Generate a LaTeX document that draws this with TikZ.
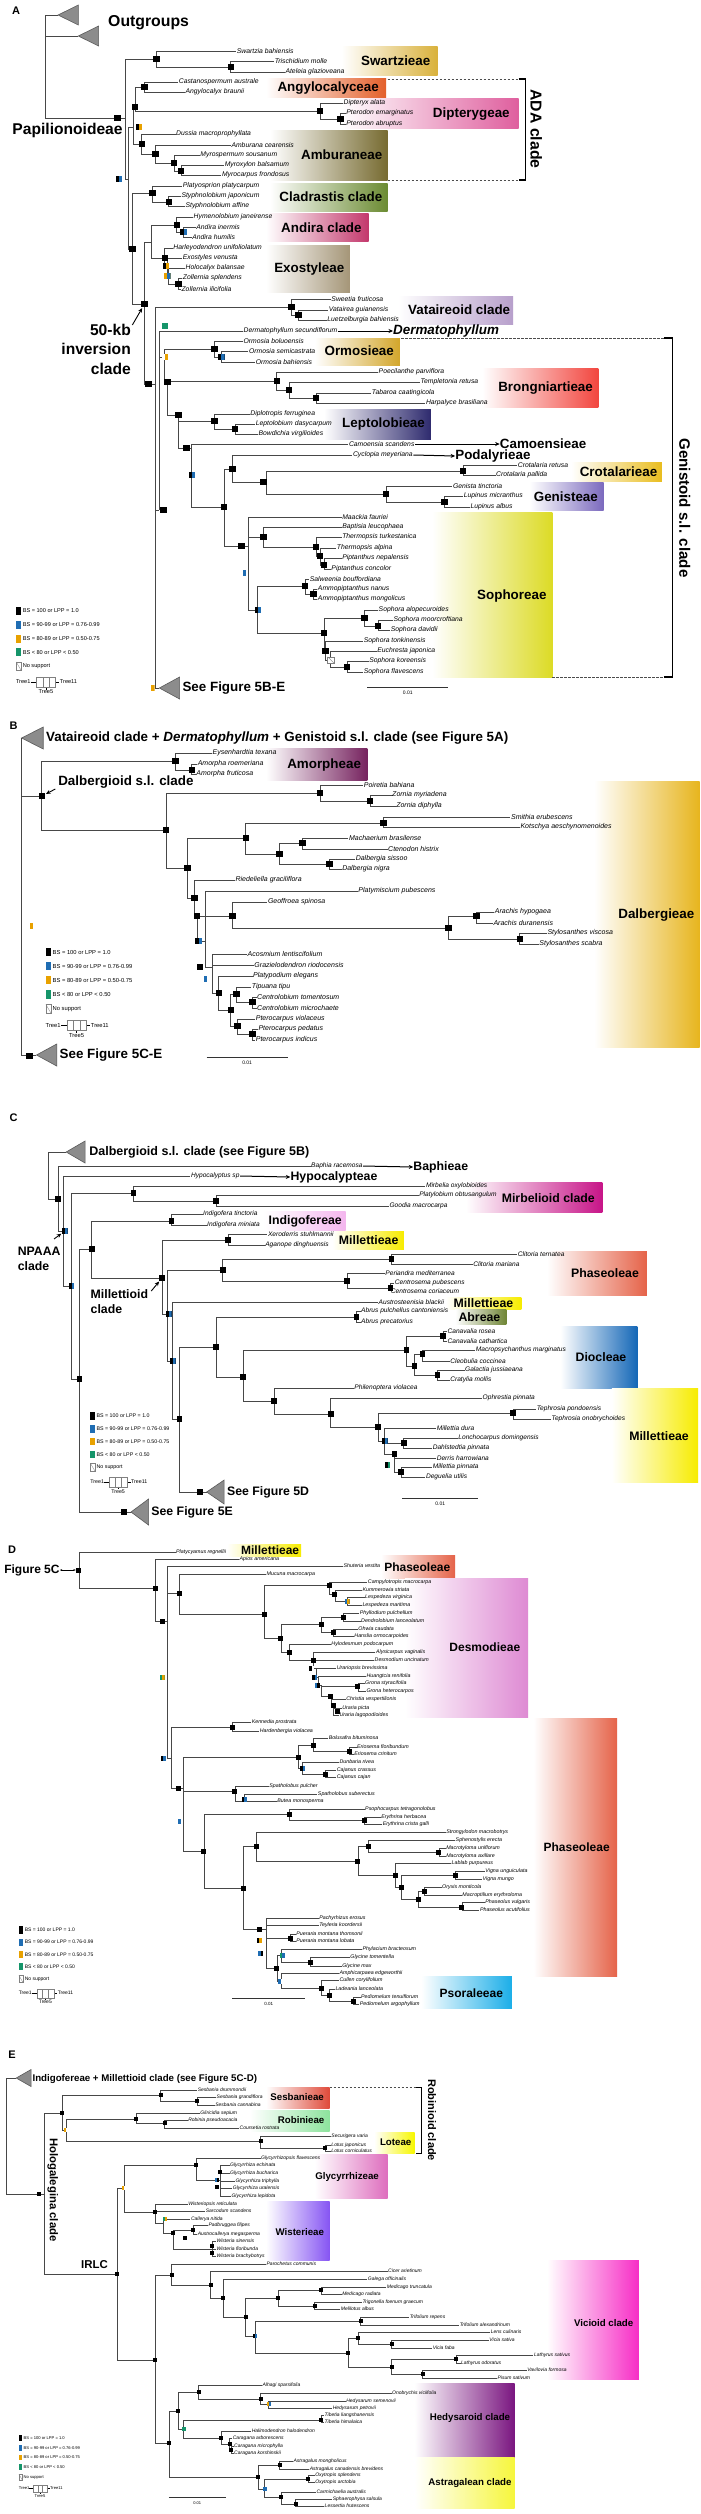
\documentclass[tikz,border=0pt]{standalone}
\usepackage{fontspec}
\setmainfont{Liberation Sans}
\newfontfamily\cf{Liberation Sans}
\newfontfamily\rf{Liberation Sans}
\usetikzlibrary{arrows.meta}
\pgfdeclarelayer{fg}
\pgfsetlayers{main,fg}
\definecolor{cB}{HTML}{1F6DB3}
\definecolor{cO}{HTML}{E8A100}
\definecolor{cG}{HTML}{15956A}
\definecolor{cLn}{HTML}{474747}
\definecolor{cTri}{HTML}{8C8C8C}
\definecolor{cTriD}{HTML}{5A5A5A}
\definecolor{cSw}{HTML}{D9B13B}
\definecolor{cAng}{HTML}{E35F2A}
\definecolor{cDip}{HTML}{DF5F9E}
\definecolor{cAmb}{HTML}{776B31}
\definecolor{cCla}{HTML}{6B8B32}
\definecolor{cAnd}{HTML}{C3386C}
\definecolor{cExo}{HTML}{A59678}
\definecolor{cVat}{HTML}{B79FCB}
\definecolor{cOrm}{HTML}{D3A62B}
\definecolor{cBro}{HTML}{F2463F}
\definecolor{cLep}{HTML}{2E2A6E}
\definecolor{cCro}{HTML}{E9BD1F}
\definecolor{cGen}{HTML}{7B6ABE}
\definecolor{cSop}{HTML}{DCDB26}
\definecolor{cAmo}{HTML}{76235F}
\definecolor{cDal}{HTML}{E7B51E}
\definecolor{cMir}{HTML}{C71588}
\definecolor{cInd}{HTML}{F4B6EE}
\definecolor{cMil}{HTML}{F7EC00}
\definecolor{cPha}{HTML}{E56349}
\definecolor{cAbr}{HTML}{6F8535}
\definecolor{cDio}{HTML}{1467B7}
\definecolor{cDes}{HTML}{DE8AD3}
\definecolor{cPso}{HTML}{1BAEE8}
\definecolor{cSes}{HTML}{DF4A3A}
\definecolor{cRob}{HTML}{8DE39D}
\definecolor{cLot}{HTML}{F7F700}
\definecolor{cGly}{HTML}{DE6EBE}
\definecolor{cWis}{HTML}{8655F3}
\definecolor{cVic}{HTML}{F72EC6}
\definecolor{cHed}{HTML}{7A1680}
\definecolor{cAst}{HTML}{F6F63C}

\newcommand\Nd[3]{\coordinate (#1) at (#2,#3);}
\newcommand\SqC[4]{\begin{pgfonlayer}{fg}\node[sq,fill=#4] (#1) at (#2,#3) {};\end{pgfonlayer}}
\newcommand\SqD[5]{\begin{pgfonlayer}{fg}\node[sq,fill=#4,path picture={\fill[#5] (path picture bounding box.north) rectangle (path picture bounding box.south east);}] (#1) at (#2,#3) {};\end{pgfonlayer}}
\newcommand\SqN[3]{\begin{pgfonlayer}{fg}\node[sq,fill=white,draw=gray,line width=0.3pt,path picture={\draw[gray,line width=0.3pt] (path picture bounding box.north west) -- (path picture bounding box.south east);}] (#1) at (#2,#3) {};\end{pgfonlayer}}
\newcommand\Ndk[3]{\Nd{#1}{#2}{#3}\SqC{#1-s}{#2}{#3}{black}}
\newcommand\Tip[4]{\coordinate (#1) at (#2,#3);\node[tl] (#1-l) at (#2,#3) {#4};}
\newcommand\Br[2]{\foreach \chd in {#2}{\draw[br] (#1) |- (\chd);}}
\newcommand\Tri[5]{\coordinate (#1) at (#2,#3);\filldraw[tri] (#1) -- ++(#4,-#5) -- ++(0,2*#5) -- cycle;}
\newcommand\Legend[5]{%
\begin{scope}[shift={(#2,#3)},scale=#4,every node/.style={lg,font=\cf\fontsize{#5}{#5}\selectfont}]
\fill[black] (0,-4) rectangle (3.5,4);
\fill[cB] (0,9.75) rectangle (3.5,17.75);
\fill[cO] (0,23.5) rectangle (3.5,31.5);
\fill[cG] (0,37.25) rectangle (3.5,45.25);
\draw[gray,line width=0.3pt,fill=white] (0,51) rectangle (3.5,59);
\draw[gray,line width=0.3pt] (0,51) -- (3.5,59);
\node (#1a) at (4.5,0) {BS = 100 or LPP = 1.0};
\node (#1b) at (4.5,13.75) {BS = 90-99 or LPP = 0.76-0.99};
\node (#1c) at (4.5,27.5) {BS = 80-89 or LPP = 0.50-0.75};
\node (#1d) at (4.5,41.25) {BS < 80 or LPP < 0.50};
\node (#1e) at (4.5,55) {No support};
\node (#1f) at (-0.5,71) {Tree1};
\draw[line width=0.4pt] (11,71) -- (15,71) (29,71) -- (32,71) (22,76) -- (22,78.5);
\draw[gray,line width=0.3pt] (15,66) rectangle (19.7,76) (19.7,66) rectangle (24.3,76) (24.3,66) rectangle (29,76);
\node (#1g) at (32,71) {Tree11};
\node[anchor=north] (#1h) at (22,78.5) {Tree5};
\end{scope}}
\newcommand\Sbar[6]{\coordinate (#1a) at (#2,#4);\coordinate (#1b) at (#3,#4);\draw[line width=0.9pt,black!80] (#1a) -- (#1b);\node[inner sep=0pt,font=\cf\fontsize{#6}{#6}\selectfont] (#1l) at (#5,#4+6) {0.01};}

\begin{document}
\begin{tikzpicture}[x=1.3505pt,y=-1pt,
 br/.style={line width=\blwz,draw=cLn},
 tl/.style={anchor=west,inner sep=0.4pt,font=\cf\itshape\fontsize{\tsz}{\tsz}\selectfont},
 cl/.style={inner sep=0pt,font=\cf\bfseries\fontsize{\csz}{\csz}\selectfont},
 sq/.style={inner sep=0pt,outer sep=0pt,minimum size=\sqz,draw=none},
 tri/.style={fill=cTri,draw=cTriD,line width=0.6pt},
 arr/.style={-{Stealth[length=4.5pt,width=4pt]},line width=1pt},
 pl/.style={font=\rf\bfseries\fontsize{11}{11}\selectfont,inner sep=0pt},
 lg/.style={anchor=west,inner sep=0.3pt},
 dsh/.style={line width=0.8pt,draw=black!70,dash pattern=on 2.5pt off 1.5pt},
 brk/.style={line width=1.1pt}]
\useasboundingbox (0,0) rectangle (518.33,2514);
\fill[white] (0,0) rectangle (518.33,2514);

% ================= PANEL A =================
\def\tsz{6.8pt}\def\csz{13.4pt}\def\sqz{6.5pt}\def\blwz{0.9pt}
\node[pl] (pA) at (12,11) {A};
\shade[left color=white,right color=cSw] (253,46) rectangle (324,75);
\shade[left color=white,right color=cAng] (197,78) rectangle (286,97);
\shade[left color=white,right color=cDip] (253,98) rectangle (384,128);
\shade[left color=white,right color=cAmb] (200,130) rectangle (287,180);
\shade[left color=white,right color=cCla] (200,183) rectangle (287,211);
\shade[left color=white,right color=cAnd] (197,213) rectangle (273,241);
\shade[left color=white,right color=cExo] (197,245) rectangle (259,292);
\shade[left color=white,right color=cVat] (295,296) rectangle (380,324);
\shade[left color=white,right color=cOrm] (233,338) rectangle (296,365);
\shade[left color=white,right color=cBro] (357,368) rectangle (443,407);
\shade[left color=white,right color=cLep] (240,409) rectangle (319,439);
\shade[left color=white,right color=cCro] (423,462) rectangle (490,481);
\shade[left color=white,right color=cGen] (392,482) rectangle (447,510);
\shade[left color=white,right color=cSop] (320,512) rectangle (409,677);

\Nd{aR}{34}{15}
\Tri{aO1}{43}{15}{15}{10}
\Tri{aO2}{58}{36}{15}{10}
\Nd{aP}{93}{118}\SqC{aPs}{87}{118}{black}
\Ndk{aS0}{116}{59}
\Tip{a1}{175}{51}{Swartzia bahiensis}
\Ndk{aS01}{171}{67}
\Tip{a2}{203}{61}{Trischidium molle}
\Tip{a3}{211}{72}{Ateleia glazioveana}
\Nd{aX1}{95}{179}\SqD{aX1s}{88}{179}{black}{cB}
\Nd{aADA}{99}{127}\SqD{aADAs}{103}{127}{black}{cO}
\Ndk{aAD}{100}{107}
\Ndk{aAng}{107}{87}
\Tip{a4}{132}{82}{Castanospermum australe}
\Tip{a5}{137}{92}{Angylocalyx braunii}
\Ndk{aD0}{237}{111}
\Tip{a6}{254}{103}{Dipteryx alata}
\Ndk{aD1}{252}{119}
\Tip{a7}{256}{113}{Pterodon emarginatus}
\Tip{a8}{256}{124}{Pterodon abruptus}
\Ndk{aAm}{105}{144}
\Tip{a9}{130}{134}{Dussia macroprophyllata}
\Ndk{aAm1}{115}{154}
\Tip{a10}{171}{145}{Amburana cearensis}
\Ndk{aAm2}{129}{163}
\Tip{a11}{148}{155}{Myrospermum sousanum}
\Ndk{aAm3}{134}{171}
\Tip{a12}{166}{165}{Myroxylon balsamum}
\Tip{a13}{164}{175}{Myrocarpus frondosus}
\Ndk{aX2}{98}{249}
\Ndk{aCl}{113}{193}
\Tip{a14}{135}{186}{Platyosprion platycarpum}
\Ndk{aCl1}{125}{202}
\Tip{a15}{134}{196}{Styphnolobium japonicum}
\Tip{a16}{137}{206}{Styphnolobium affine}
\Ndk{aK}{107}{304}
\Nd{aAE}{112}{242}
\Ndk{aAn0}{131}{225}
\Tip{a17}{143}{217}{Hymenolobium janeirense}
\Nd{aAn1}{136}{232}\SqD{aAn1s}{136}{232}{black}{cB}
\Tip{a18}{145}{227}{Andira inermis}
\Tip{a19}{142}{237}{Andira humilis}
\Ndk{aEx0}{122}{258}
\Tip{a20}{128}{248}{Harleyodendron unifoliolatum}
\Nd{aEx1}{124}{268}\SqD{aEx1s}{123}{266}{black}{cO}
\Tip{a21}{135}{258}{Exostyles venusta}
\Nd{aEx2}{125}{278}\SqD{aEx2s}{124}{276}{cO}{cB}
\Tip{a22}{137}{268}{Holocalyx balansae}
\Ndk{aEx3}{132}{284}
\Tip{a23}{135}{278}{Zollernia splendens}
\Tip{a24}{134}{289}{Zollernia ilicifolia}
\Nd{aY}{115}{384}\SqC{aYs}{110}{384}{black}
\Ndk{aV0}{216}{307}
\Tip{a25}{245}{299}{Sweetia fruticosa}
\Ndk{aV1}{221}{315}
\Tip{a26}{243}{310}{Vatairea guianensis}
\Tip{a27}{242}{320}{Luetzelburgia bahiensis}
\Nd{aZ}{118}{510}\SqC{aZs}{121}{510}{black}
\Tip{aDm}{180}{331}{Dermatophyllum secundiflorum}
\SqC{aDms}{122}{326}{cG}
\Nd{aGe}{122}{357}\SqD{aGes}{122}{357}{white}{cO}
\Ndk{aOr0}{159}{349}
\Tip{a28}{180}{341}{Ormosia boluoensis}
\Nd{aOr1}{164}{357}\SqD{aOr1s}{164}{357}{black}{cB}
\Tip{a29}{184}{351}{Ormosia semicastrata}
\Tip{a30}{189}{362}{Ormosia bahiensis}
\Ndk{aG2}{124}{382}
\Ndk{aBr0}{205}{381}
\Tip{a31}{280}{372}{Poecilanthe parviflora}
\Ndk{aBr1}{214}{390}
\Tip{a32}{311}{382}{Templetonia retusa}
\Ndk{aBr2}{234}{398}
\Tip{a33}{275}{393}{Tabaroa caatingicola}
\Tip{a34}{315}{403}{Harpalyce brasiliana}
\Ndk{aG3}{132}{415}
\Ndk{aLe0}{159}{421}
\Tip{a35}{185}{414}{Diplotropis ferruginea}
\Ndk{aLe1}{174}{429}
\Tip{a36}{189}{424}{Leptolobium dasycarpum}
\Tip{a37}{191}{434}{Bowdichia virgilioides}
\Nd{aG4}{142}{448}\SqC{aG4s}{138}{448}{black}
\Tip{aCs}{258}{444}{Camoensia scandens}
\Ndk{aG5}{166}{507}
\SqD{aG5b}{142}{475}{black}{cB}
\Ndk{aPC}{172}{469}
\Tip{aCy}{261}{455}{Cyclopia meyeriana}
\Nd{aCG}{197}{482}\SqC{aCGs}{195}{482}{black}
\Ndk{aCr}{343}{471}
\Tip{a38}{383}{465}{Crotalaria retusa}
\Tip{a39}{367}{475}{Crotalaria pallida}
\Ndk{aGn0}{286}{494}
\Tip{a40}{335}{486}{Genista tinctoria}
\Ndk{aGn1}{329}{502}
\Tip{a41}{343}{496}{Lupinus micranthus}
\Tip{a42}{348}{507}{Lupinus albus}
\Nd{aSR}{184}{546}\SqC{aSRs}{179}{546}{black}
\Tip{a43}{253}{517}{Maackia fauriei}
\Ndk{aSB}{195}{537}
\Tip{a44}{253}{527}{Baptisia leucophaea}
\Ndk{aTh}{234}{547}
\Tip{a45}{253}{537}{Thermopsis turkestanica}
\Ndk{aTh2}{237}{556}
\Tip{a46}{249}{548}{Thermopsis alpina}
\Ndk{aPi}{240}{565}
\Tip{a47}{253}{558}{Piptanthus nepalensis}
\Tip{a48}{245}{569}{Piptanthus concolor}
\SqD{aSRb}{180}{573}{white}{cB}
\Nd{aSS}{191}{610}\SqD{aSSs}{191}{610}{black}{cB}
\Ndk{aSa}{226}{586}
\Tip{a49}{229}{579}{Salweenia bouffordiana}
\Ndk{aAmp}{232}{594}
\Tip{a50}{235}{589}{Ammopiptanthus nanus}
\Tip{a51}{235}{599}{Ammopiptanthus mongolicus}
\Ndk{aSo2}{240}{633}
\Ndk{aSoA}{270}{618}
\Tip{a52}{280}{610}{Sophora alopecuroides}
\Ndk{aSoA2}{280}{626}
\Tip{a53}{291}{620}{Sophora moorcroftiana}
\Tip{a54}{289}{630}{Sophora davidii}
\Ndk{aSoB}{241}{651}
\Tip{a55}{269}{641}{Sophora tonkinensis}
\Nd{aSoC}{245}{660}\SqN{aSoCs}{245}{660}
\Tip{a56}{279}{651}{Euchresta japonica}
\Ndk{aSoD}{257}{667}
\Tip{a57}{273}{661}{Sophora koreensis}
\Tip{a58}{269}{672}{Sophora flavescens}
\Tri{aSee}{118}{688}{15}{11}
\SqD{aSees}{112}{688}{white}{cO}

\Br{aR}{aO1,aO2,aP}
\Br{aP}{aS0,aX1}
\Br{aS0}{a1,aS01}
\Br{aS01}{a2,a3}
\Br{aX1}{aADA,aX2}
\Br{aADA}{aAD,aAm}
\Br{aAD}{aAng,aD0}
\Br{aAng}{a4,a5}
\Br{aD0}{a6,aD1}
\Br{aD1}{a7,a8}
\Br{aAm}{a9,aAm1}
\Br{aAm1}{a10,aAm2}
\Br{aAm2}{a11,aAm3}
\Br{aAm3}{a12,a13}
\Br{aX2}{aCl,aK}
\Br{aCl}{a14,aCl1}
\Br{aCl1}{a15,a16}
\Br{aK}{aAE,aY}
\Br{aAE}{aAn0,aEx0}
\Br{aAn0}{a17,aAn1}
\Br{aAn1}{a18,a19}
\Br{aEx0}{a20,aEx1}
\Br{aEx1}{a21,aEx2}
\Br{aEx2}{a22,aEx3}
\Br{aEx3}{a23,a24}
\Br{aY}{aV0,aZ,aSee}
\Br{aV0}{a25,aV1}
\Br{aV1}{a26,a27}
\Br{aZ}{aDm,aGe}
\Br{aGe}{aOr0,aG2}
\Br{aOr0}{a28,aOr1}
\Br{aOr1}{a29,a30}
\Br{aG2}{aBr0,aG3}
\Br{aBr0}{a31,aBr1}
\Br{aBr1}{a32,aBr2}
\Br{aBr2}{a33,a34}
\Br{aG3}{aLe0,aG4}
\Br{aLe0}{a35,aLe1}
\Br{aLe1}{a36,a37}
\Br{aG4}{aCs,aG5}
\Br{aG5}{aPC,aSR}
\Br{aPC}{aCy,aCG}
\Br{aCG}{aCr,aGn0}
\Br{aCr}{a38,a39}
\Br{aGn0}{a40,aGn1}
\Br{aGn1}{a41,a42}
\Br{aSR}{a43,aSB,aSS}
\Br{aSB}{a44,aTh}
\Br{aTh}{a45,aTh2}
\Br{aTh2}{a46,aPi}
\Br{aPi}{a47,a48}
\Br{aSS}{aSa,aSo2}
\Br{aSa}{a49,aAmp}
\Br{aAmp}{a50,a51}
\Br{aSo2}{aSoA,aSoB}
\Br{aSoA}{a52,aSoA2}
\Br{aSoA2}{a53,a54}
\Br{aSoB}{a55,aSoC}
\Br{aSoC}{a56,aSoD}
\Br{aSoD}{a57,a58}

\node[cl] (lSw) at (293,61) {Swartzieae};
\node[cl] (lAn) at (243,88) {Angylocalyceae};
\node[cl] (lDi) at (349,114) {Dipterygeae};
\node[cl] (lAm) at (253,155) {Amburaneae};
\node[cl] (lCl) at (245,197) {Cladrastis clade};
\node[cl] (lAd) at (238,228) {Andira clade};
\node[cl] (lEx) at (229,269) {Exostyleae};
\node[cl] (lVa) at (340,310) {Vataireoid clade};
\node[cl] (lOr) at (266,351) {Ormosieae};
\node[cl] (lBr) at (404,388) {Brongniartieae};
\node[cl] (lLe) at (284,424) {Leptolobieae};
\node[cl] (lCr) at (458,472) {Crotalarieae};
\node[cl] (lGe) at (419,497) {Genisteae};
\node[cl] (lSo) at (379,596) {Sophoreae};
\node[cl,anchor=west] (lDm) at (291,331) {\itshape Dermatophyllum};
\node[cl,anchor=west] (lCa) at (370,444) {Camoensieae};
\node[cl,anchor=west] (lPo) at (337,456) {Podalyrieae};
\node[cl,anchor=west] (lSee) at (135,688) {See Figure 5B-E};
\node[cl,anchor=west,font=\cf\bfseries\fontsize{15.8}{15.8}\selectfont] (lOut) at (80,23) {Outgroups};
\node[cl,font=\cf\bfseries\fontsize{15.6}{15.6}\selectfont] (lPap) at (50,130) {Papilionoideae};
\node[cl,anchor=east,align=right,font=\cf\bfseries\fontsize{15.6}{19.5}\selectfont] (l50) at (97,349) {50-kb\\inversion\\clade};
\node[cl,rotate=-90,font=\rf\bfseries\fontsize{15.8}{15.8}\selectfont] (lADA) at (397,129) {ADA clade};
\node[cl,rotate=-90,font=\rf\bfseries\fontsize{15.1}{15.1}\selectfont] (lGS) at (507,508) {Genistoid s.l. clade};
\draw[arr] (aDm-l.east) -- (lDm.west);
\draw[arr] (aCs-l.east) -- (lCa.west);
\draw[arr] (aCy-l.east) -- (lPo.west);
\coordinate (a50t) at (98,325);
\draw[arr,line width=0.9pt,shorten >=1pt] (a50t) -- (aK-s);
\draw[dsh] (287,79) -- (384,79) (287,180) -- (384,180);
\draw[brk] (384,79) -- (389,79) -- (389,180) -- (384,180);
\draw[dsh] (297,338) -- (492,338) (409,677) -- (492,677);
\draw[brk] (492,338) -- (498,338) -- (498,677) -- (492,677);
\Legend{lA}{12}{611}{1}{5.6}
\Sbar{sA}{272}{332}{687}{302}{5}

% ================= PANEL B =================
\def\tsz{7pt}\def\csz{13.4pt}\def\sqz{6.5pt}\def\blwz{0.9pt}
\node[pl] (pB) at (10,726) {B};
\shade[left color=white,right color=cAmo] (197,748) rectangle (272,780);
\shade[left color=white,right color=cDal] (440,781) rectangle (518,1047);
\Nd{bR}{16}{738}
\Tri{bT}{16}{738}{16}{11}
\Ndk{bD}{31}{796}
\Ndk{bAm0}{130}{761}
\Tip{b1}{157}{753}{Eysenhardtia texana}
\Ndk{bAm1}{142}{770}
\Tip{b2}{146}{764}{Amorpha roemeriana}
\Tip{b3}{145}{774}{Amorpha fruticosa}
\Ndk{bD0}{123}{830}
\Ndk{bD1}{237}{793}
\Tip{b4}{269}{785}{Poiretia bahiana}
\Ndk{bZo}{274}{801}
\Tip{b5}{290}{795}{Zornia myriadena}
\Tip{b6}{293}{806}{Zornia diphylla}
\Ndk{bD2}{139}{868}
\Ndk{bD3}{182}{838}
\Ndk{bSm}{284}{823}
\Tip{b7}{378}{817}{Smithia erubescens}
\Tip{b8}{385}{827}{Kotschya aeschynomenoides}
\Ndk{bD4}{207}{854}
\Ndk{bMa}{224}{843}
\Tip{b9}{258}{838}{Machaerium brasilense}
\Tip{b10}{287}{849}{Ctenodon histrix}
\Ndk{bDa}{244}{864}
\Tip{b11}{263}{859}{Dalbergia sissoo}
\Tip{b12}{253}{869}{Dalbergia nigra}
\Ndk{bD5}{144}{898}
\Tip{b13}{174}{880}{Riedeliella graciliflora}
\Ndk{bD6}{146}{916}
\Ndk{bGe}{172}{916}
\Tip{b14}{198}{902}{Geoffroea spinosa}
\Ndk{bAS}{332}{928}
\Ndk{bAr}{353}{916}
\Tip{b15}{366}{912}{Arachis hypogaea}
\Tip{b16}{365}{923}{Arachis duranensis}
\Ndk{bSt}{385}{939}
\Tip{b17}{405}{933}{Stylosanthes viscosa}
\Tip{b18}{399}{944}{Stylosanthes scabra}
\Nd{bPl}{152}{941}\SqD{bPls}{147}{941}{black}{cB}
\Tip{b19}{265}{891}{Platymiscium pubescens}
\Nd{bL}{157}{967}\SqC{bLs}{148}{967}{black}
\Nd{bL2}{157}{979}\SqD{bL2s}{151}{979}{white}{cB}
\Tip{b20}{183}{954}{Acosmium lentiscifolium}
\Tip{b21}{188}{965}{Grazielodendron riodocensis}
\Ndk{bL3}{162}{993}
\Tip{b22}{187}{976}{Platypodium elegans}
\Ndk{bL4}{171}{1010}
\Ndk{bTi}{175}{994}
\Tip{b23}{186}{987}{Tipuana tipu}
\Ndk{bCe}{187}{1002}
\Tip{b24}{190}{997}{Centrolobium tomentosum}
\Tip{b25}{190}{1008}{Centrolobium microchaete}
\Ndk{bPt}{176}{1026}
\Tip{b26}{189}{1019}{Pterocarpus violaceus}
\Ndk{bPt2}{187}{1034}
\Tip{b27}{191}{1029}{Pterocarpus pedatus}
\Tip{b28}{189}{1040}{Pterocarpus indicus}
\Tri{bSee}{27}{1055}{15}{11}
\SqC{bSees}{22}{1056}{black}
\SqD{bRs}{22}{926}{white}{cO}
\Br{bR}{bD,bSee}
\Br{bD}{bAm0,bD0}
\Br{bAm0}{b1,bAm1}
\Br{bAm1}{b2,b3}
\Br{bD0}{bD1,bD2}
\Br{bD1}{b4,bZo}
\Br{bZo}{b5,b6}
\Br{bD2}{bD3,bD5}
\Br{bD3}{bSm,bD4}
\Br{bSm}{b7,b8}
\Br{bD4}{bMa,bDa}
\Br{bMa}{b9,b10}
\Br{bDa}{b11,b12}
\Br{bD5}{b13,bD6}
\Br{bD6}{bGe,bPl}
\Br{bGe}{b14,bAS}
\Br{bAS}{bAr,bSt}
\Br{bAr}{b15,b16}
\Br{bSt}{b17,b18}
\Br{bPl}{b19,bL}
\Br{bL}{b20,bL2}
\Br{bL2}{b21,bL3}
\Br{bL3}{b22,bL4}
\Br{bL4}{bTi,bPt}
\Br{bTi}{b23,bCe}
\Br{bCe}{b24,b25}
\Br{bPt}{b26,bPt2}
\Br{bPt2}{b27,b28}
\node[cl,anchor=west] (lBt) at (34,738) {Vataireoid clade + \textit{Dermatophyllum} + Genistoid s.l. clade (see Figure 5A)};
\node[cl,anchor=west] (lDa) at (43,782) {Dalbergioid s.l. clade};
\node[cl] (lAmo) at (240,765) {Amorpheae};
\node[cl] (lDal) at (486,915) {Dalbergieae};
\node[cl,anchor=west] (lSeeB) at (44,1055) {See Figure 5C-E};
\coordinate (bDat) at (41,789);
\draw[arr,line width=0.9pt,shorten >=1pt] (bDat) -- (bD-s);
\Legend{lB}{34}{952}{1.03}{5.8}
\Sbar{sB}{153}{213}{1057}{183}{5}

% ================= PANEL C =================
\def\tsz{6.6pt}\def\csz{12.3pt}\def\sqz{5.5pt}\def\blwz{0.85pt}
\node[pl] (pC) at (10,1118) {C};
\shade[left color=white,right color=cMir] (345,1182) rectangle (446,1212);
\shade[left color=white,right color=cInd] (195,1211) rectangle (256,1230);
\shade[left color=white,right color=cMil] (246,1231) rectangle (299,1249);
\shade[left color=white,right color=cPha] (405,1251) rectangle (479,1295);
\shade[left color=white,right color=cMil] (330,1297) rectangle (386,1309);
\shade[left color=white,right color=cAbr] (337,1309) rectangle (375,1324);
\shade[left color=white,right color=cDio] (415,1326) rectangle (472,1388);
\shade[left color=white,right color=cMil] (453,1388) rectangle (517,1482);
\Nd{cR}{36}{1152}
\Tri{cT}{49}{1152}{14}{11}
\Ndk{cR1}{43}{1199}
\Tip{cBa}{230}{1166}{Baphia racemosa}
\Nd{cNP}{47}{1231}\SqD{cNPs}{48}{1231}{black}{cB}
\Tip{cHy}{141}{1176}{Hypocalyptus sp}
\Nd{cN2}{53}{1286}\SqD{cN2s}{53}{1286}{black}{cB}
\Ndk{cMi0}{99}{1193}
\Tip{c1}{315}{1186}{Mirbelia oxylobioides}
\Ndk{cMi1}{160}{1201}
\Tip{c2}{310}{1195}{Platylobium obtusangulum}
\Tip{c3}{288}{1206}{Goodia macrocarpa}
\Ndk{cN3}{59}{1379}
\Ndk{cIM}{68}{1249}
\Ndk{cIn}{127}{1221}
\Tip{c4}{150}{1214}{Indigofera tinctoria}
\Tip{c5}{153}{1225}{Indigofera miniata}
\Ndk{cMl}{120}{1278}
\Ndk{cXe}{169}{1240}
\Tip{c6}{198}{1234}{Xeroderris stuhlmannii}
\Tip{c7}{196}{1245}{Aganope dinghuensis}
\Nd{cM2}{124}{1314}\SqD{cM2s}{125}{1314}{black}{cB}
\Ndk{cPh}{165}{1270}
\Ndk{cCl}{290}{1259}
\Tip{c8}{383}{1254}{Clitoria ternatea}
\Tip{c9}{350}{1264}{Clitoria mariana}
\Ndk{cCe}{257}{1281}
\Tip{c10}{285}{1273}{Periandra mediterranea}
\Ndk{cCe1}{289}{1288}
\Tip{c11}{292}{1283}{Centrosema pubescens}
\Tip{c12}{289}{1291}{Centrosema coriaceum}
\Nd{cM3}{128}{1361}\SqD{cM3s}{128}{1361}{black}{cB}
\Tip{c13}{280}{1302}{Austrosteenisia blackii}
\Ndk{cM4}{133}{1419}
\Ndk{cM5}{160}{1347}
\Ndk{cAb}{264}{1317}
\Tip{c14}{267}{1311}{Abrus pulchellus cantoniensis}
\Tip{c15}{267}{1322}{Abrus precatorius}
\Ndk{cM6}{180}{1377}
\Ndk{cDi}{301}{1350}
\Ndk{cCa}{328}{1336}
\Tip{c16}{331}{1331}{Canavalia rosea}
\Tip{c17}{331}{1341}{Canavalia cathartica}
\Ndk{cDi2}{307}{1366}
\Ndk{cDi3}{313}{1354}
\Tip{c18}{352}{1350}{Macropsychanthus marginatus}
\Tip{c19}{333}{1361}{Cleobulia coccinea}
\Ndk{cDi4}{324}{1375}
\Tip{c20}{344}{1370}{Galactia jussiaeana}
\Tip{c21}{333}{1380}{Cratylia mollis}
\Ndk{cMt0}{203}{1401}
\Tip{c22}{262}{1388}{Philenoptera violacea}
\Ndk{cMt1}{245}{1414}
\Tip{c23}{357}{1398}{Ophrestia pinnata}
\Ndk{cMt2}{280}{1427}
\Ndk{cTe}{380}{1413}
\Tip{c24}{397}{1409}{Tephrosia pondoensis}
\Tip{c25}{408}{1419}{Tephrosia onobrychoides}
\Nd{cMt3}{285}{1441}\SqD{cMt3s}{285}{1441}{black}{cB}
\Tip{c26}{323}{1428}{Millettia dura}
\Ndk{cLo}{299}{1443}
\Tip{c27}{339}{1438}{Lonchocarpus domingensis}
\Tip{c28}{320}{1448}{Dahlstedtia pinnata}
\Ndk{cMt4}{292}{1454}
\Tip{c29}{323}{1458}{Derris harrowiana}
\SqD{cMt4g}{287}{1465}{black}{cG}
\Ndk{cMt5}{297}{1472}
\Tip{c30}{320}{1467}{Millettia pinnata}
\Tip{c31}{315}{1477}{Deguelia utilis}
\Tri{cS5D}{153}{1492}{13}{12}
\SqC{cS5Ds}{148}{1492}{black}
\Tri{cS5E}{97}{1512}{13}{13}
\SqC{cS5Es}{92}{1512}{black}
\Br{cR}{cT,cR1}
\Br{cR1}{cBa,cNP}
\Br{cNP}{cHy,cN2}
\Br{cN2}{cMi0,cN3}
\Br{cMi0}{c1,cMi1}
\Br{cMi1}{c2,c3}
\Br{cN3}{cIM,cS5E}
\Br{cIM}{cIn,cMl}
\Br{cIn}{c4,c5}
\Br{cMl}{cXe,cM2}
\Br{cXe}{c6,c7}
\Br{cM2}{cPh,cM3}
\Br{cPh}{cCl,cCe}
\Br{cCl}{c8,c9}
\Br{cCe}{c10,cCe1}
\Br{cCe1}{c11,c12}
\Br{cM3}{c13,cM4}
\Br{cM4}{cM5,cS5D}
\Br{cM5}{cAb,cM6}
\Br{cAb}{c14,c15}
\Br{cM6}{cDi,cMt0}
\Br{cDi}{cCa,cDi2}
\Br{cCa}{c16,c17}
\Br{cDi2}{cDi3,cDi4}
\Br{cDi3}{c18,c19}
\Br{cDi4}{c20,c21}
\Br{cMt0}{c22,cMt1}
\Br{cMt1}{c23,cMt2}
\Br{cMt2}{cTe,cMt3}
\Br{cTe}{c24,c25}
\Br{cMt3}{c26,cLo,cMt4}
\Br{cLo}{c27,c28}
\Br{cMt4}{c29,cMt5}
\Br{cMt5}{c30,c31}
\node[cl,anchor=west,font=\cf\bfseries\fontsize{12.5}{12.5}\selectfont] (lCt) at (66,1152) {Dalbergioid s.l. clade (see Figure 5B)};
\node[cl,anchor=west] (lBa) at (306,1167) {Baphieae};
\node[cl,anchor=west] (lHy) at (215,1177) {Hypocalypteae};
\node[cl] (lMi) at (406,1198) {Mirbelioid clade};
\node[cl] (lIn) at (226,1221) {Indigofereae};
\node[cl] (lMl1) at (273,1240) {Millettieae};
\node[cl] (lPh) at (448,1273) {Phaseoleae};
\node[cl] (lMl2) at (358,1303) {Millettieae};
\node[cl] (lAb) at (355,1317) {Abreae};
\node[cl] (lDo) at (445,1357) {Diocleae};
\node[cl] (lMl3) at (488,1436) {Millettieae};
\node[cl,anchor=west,align=left,font=\cf\bfseries\fontsize{12.3}{15.5}\selectfont] (lNP) at (13,1259) {NPAAA\\clade};
\node[cl,anchor=west,align=left,font=\cf\bfseries\fontsize{12.3}{15}\selectfont] (lMc) at (67,1302) {Millettioid\\clade};
\node[cl,anchor=west] (l5D) at (168,1492) {See Figure 5D};
\node[cl,anchor=west] (l5E) at (112,1512) {See Figure 5E};
\draw[arr] (cBa-l.east) -- (lBa.west);
\draw[arr] (cHy-l.east) -- (lHy.west);
\coordinate (cNPt) at (40,1239);
\draw[arr,line width=0.9pt,shorten >=1pt] (cNPt) -- (cNPs);
\coordinate (cMct) at (112,1291);
\draw[arr,line width=0.9pt,shorten >=1pt] (cMct) -- (cMl-s);
\Legend{lC}{67}{1416}{0.93}{5.3}
\Sbar{sC}{298}{354}{1498}{326}{5}

% ================= PANEL D =================
\def\tsz{5.3pt}\def\csz{12pt}\def\sqz{5pt}\def\blwz{0.7pt}
\node[pl] (pD) at (9,1550) {D};
\shade[left color=white,right color=cMil] (168,1544) rectangle (223,1556);
\shade[left color=white,right color=cPha] (282,1555) rectangle (337,1578);
\shade[left color=white,right color=cDes] (300,1578) rectangle (391,1717);
\shade[left color=white,right color=cPha] (395,1718) rectangle (457,1976);
\shade[left color=white,right color=cPso] (312,1976) rectangle (379,2008);
\Nd{dR}{59}{1570}\SqC{dRs}{58}{1570}{black}
\Tip{d1}{130}{1552}{Platycyamus regnellii}
\Ndk{dD1}{115}{1588}
\Tip{d2}{177}{1559}{Apios americana}
\Nd{dD2}{124}{1621}\SqC{dD2s}{120}{1621}{black}
\SqD{dD2b}{120}{1677}{cG}{cO}
\Tip{d3}{254}{1566}{Shuteria vestita}
\Ndk{dDM}{133}{1593}
\Tip{d4}{197}{1574}{Mucuna macrocarpa}
\Ndk{dDe}{196}{1614}
\Ndk{dCa}{244}{1585}
\Tip{d5}{272}{1582}{Campylotropis macrocarpa}
\Ndk{dCa2}{248}{1594}
\Tip{d6}{268}{1590}{Kummerowia striata}
\Nd{dLe}{257}{1601}\SqD{dLes}{257}{1601}{cB}{cO}
\Tip{d7}{270}{1597}{Lespedeza virginica}
\Tip{d8}{268}{1605}{Lespedeza maritima}
\Ndk{dDe2}{208}{1638}
\Ndk{dPy}{238}{1624}
\Ndk{dPy1}{254}{1617}
\Tip{d9}{266}{1613}{Phyllodium pulchellum}
\Tip{d10}{267}{1621}{Dendrolobium lanceolatum}
\Ndk{dOh}{247}{1632}
\Tip{d11}{265}{1629}{Ohwia caudata}
\Tip{d12}{262}{1636}{Hanslia ormocarpoides}
\Ndk{dDe3}{214}{1652}
\Tip{d13}{245}{1644}{Hylodesmum podocarpum}
\Ndk{dDe4}{232}{1660}
\Tip{d14}{278}{1652}{Alysicarpus vaginalis}
\Tip{d15}{277}{1660}{Desmodium uncinatum}
\Nd{dDe5}{234}{1668}\SqD{dDe5s}{231}{1668}{black}{white}
\Tip{d16}{249}{1668}{Urariopsis brevissima}
\Nd{dDe6}{236}{1677}\SqD{dDe6s}{233}{1677}{black}{cB}
\Tip{d17}{271}{1676}{Huangtcia renifolia}
\Nd{dDe7}{238}{1685}\SqD{dDe7s}{235}{1685}{cB}{black}
\Ndk{dGr}{265}{1686}
\Tip{d18}{270}{1683}{Grona styracifolia}
\Tip{d19}{271}{1691}{Grona heterocarpos}
\Ndk{dDe8}{245}{1696}
\Tip{d20}{256}{1699}{Christia vespertilionis}
\Ndk{dDe9}{247}{1705}
\Tip{d21}{253}{1708}{Uraria picta}
\Tip{d22}{251}{1715}{Uraria lagopodioides}
\SqC{dUrs}{250}{1711}{black}
\Nd{dD3}{127}{1758}\SqD{dD3s}{121}{1758}{black}{cB}
\Ndk{dKe}{172}{1727}
\Tip{d23}{186}{1722}{Kennedia prostrata}
\Tip{d24}{192}{1731}{Hardenbergia violacea}
\Nd{dD4}{136}{1788}\SqC{dD4s}{132}{1788}{black}
\SqD{dD4b}{132}{1821}{white}{cB}
\Ndk{dBo}{221}{1757}
\Ndk{dBl}{232}{1745}
\Tip{d25}{243}{1738}{Bolusafra bituminosa}
\Ndk{dEr}{259}{1751}
\Tip{d26}{264}{1747}{Eriosema floribundum}
\Tip{d27}{262}{1754}{Eriosema crinitum}
\Nd{dCj}{224}{1768}\SqD{dCjs}{224}{1768}{black}{cB}
\Tip{d28}{251}{1762}{Dunbaria rivea}
\Ndk{dCj2}{241}{1774}
\Tip{d29}{249}{1770}{Cajanus crassus}
\Tip{d30}{249}{1777}{Cajanus cajan}
\Ndk{dSp}{174}{1791}
\Tip{d31}{199}{1786}{Spatholobus pulcher}
\Nd{dSp2}{181}{1801}\SqD{dSp2s}{181}{1799}{black}{cB}
\Tip{d32}{235}{1794}{Spatholobus suberectus}
\Tip{d33}{205}{1801}{Butea monosperma}
\Ndk{dD5}{151}{1851}
\Ndk{dPs}{214}{1814}
\Tip{d34}{270}{1809}{Psophocarpus tetragonolobus}
\Ndk{dEy}{270}{1820}
\Tip{d35}{282}{1817}{Erythrina herbacea}
\Tip{d36}{283}{1824}{Erythrina crista galli}
\Ndk{dD6}{180}{1888}
\Ndk{dD7}{190}{1846}
\Tip{d37}{330}{1832}{Strongylodon macrobotrys}
\Ndk{dP1}{265}{1861}
\Ndk{dSh}{273}{1846}
\Tip{d38}{337}{1840}{Sphenostylis erecta}
\Ndk{dMc}{325}{1852}
\Tip{d39}{330}{1848}{Macrotyloma uniflorum}
\Tip{d40}{330}{1856}{Macrotyloma axillare}
\Ndk{dP2}{293}{1875}
\Tip{d41}{334}{1863}{Lablab purpureus}
\Ndk{dP3}{297}{1887}
\Ndk{dVi}{337}{1875}
\Tip{d42}{359}{1871}{Vigna unguiculata}
\Tip{d43}{357}{1879}{Vigna mungo}
\Ndk{dP4}{310}{1899}
\Ndk{dP5}{314}{1891}
\Tip{d44}{327}{1887}{Oryxis monticola}
\Tip{d45}{342}{1895}{Macroptilium erythroloma}
\Ndk{dPa}{342}{1907}
\Tip{d46}{359}{1902}{Phaseolus vulgaris}
\Tip{d47}{355}{1910}{Phaseolus acutifolius}
\Nd{dD8}{197}{1929}\SqC{dD8s}{192}{1929}{black}
\Tip{d48}{236}{1918}{Pachyrhizus erosus}
\Tip{d49}{236}{1925}{Teyleria koordersii}
\SqD{dD8b}{192}{1940}{black}{cO}
\SqD{dD8c}{193}{1953}{cB}{black}
\Ndk{dPu}{215}{1938}
\Tip{d50}{219}{1934}{Pueraria montana thomsonii}
\Tip{d51}{219}{1941}{Pueraria montana lobata}
\Ndk{dD10}{205}{1968}
\Nd{dD11}{208}{1955}\SqD{dD11s}{209}{1955}{cG}{cB}
\Tip{d52}{268}{1949}{Phylacium bracteosum}
\Ndk{dGl}{230}{1962}
\Tip{d53}{259}{1957}{Glycine tomentella}
\Tip{d54}{253}{1966}{Glycine max}
\Nd{dD12}{208}{1981}\SqD{dD12s}{208}{1981}{cB}{white}
\Tip{d55}{251}{1973}{Amphicarpaea edgeworthii}
\Ndk{dPo}{238}{1988}
\Tip{d56}{251}{1980}{Cullen corylifolium}
\Ndk{dPo2}{244}{1995}
\Tip{d57}{248}{1989}{Ladeania lanceolata}
\Ndk{dPe}{262}{2001}
\Tip{d58}{267}{1997}{Pediomelum tenuiflorum}
\Tip{d59}{266}{2004}{Pediomelum argophyllum}
\Br{dR}{d1,dD1}
\Br{dD1}{d2,dD2}
\Br{dD2}{d3,dDM,dD3}
\Br{dDM}{d4,dDe}
\Br{dDe}{dCa,dDe2}
\Br{dCa}{d5,dCa2}
\Br{dCa2}{d6,dLe}
\Br{dLe}{d7,d8}
\Br{dDe2}{dPy,dDe3}
\Br{dPy}{dPy1,dOh}
\Br{dPy1}{d9,d10}
\Br{dOh}{d11,d12}
\Br{dDe3}{d13,dDe4}
\Br{dDe4}{d14,d15,dDe5}
\Br{dDe5}{d16,dDe6}
\Br{dDe6}{d17,dDe7}
\Br{dDe7}{dGr,dDe8}
\Br{dGr}{d18,d19}
\Br{dDe8}{d20,dDe9}
\Br{dDe9}{d21,d22}
\Br{dD3}{dKe,dD4}
\Br{dKe}{d23,d24}
\Br{dD4}{dBo,dSp,dD5}
\Br{dBo}{dBl,dCj}
\Br{dBl}{d25,dEr}
\Br{dEr}{d26,d27}
\Br{dCj}{d28,dCj2}
\Br{dCj2}{d29,d30}
\Br{dSp}{d31,dSp2}
\Br{dSp2}{d32,d33}
\Br{dD5}{dPs,dD6}
\Br{dPs}{d34,dEy}
\Br{dEy}{d35,d36}
\Br{dD6}{dD7,dD8}
\Br{dD7}{d37,dP1}
\Br{dP1}{dSh,dP2}
\Br{dSh}{d38,dMc}
\Br{dMc}{d39,d40}
\Br{dP2}{d41,dP3}
\Br{dP3}{dVi,dP4}
\Br{dVi}{d42,d43}
\Br{dP4}{dP5,dPa}
\Br{dP5}{d44,d45}
\Br{dPa}{d46,d47}
\Br{dD8}{d48,d49,dPu,dD10}
\Br{dPu}{d50,d51}
\Br{dD10}{dD11,dD12}
\Br{dD11}{d52,dGl}
\Br{dGl}{d53,d54}
\Br{dD12}{d55,dPo}
\Br{dPo}{d56,dPo2}
\Br{dPo2}{d57,dPe}
\Br{dPe}{d58,d59}
\node[cl,anchor=west] (lF5C) at (3,1570) {Figure 5C};
\draw[{Stealth[length=2.5pt]}-{Stealth[length=2.5pt]},line width=0.8pt] (lF5C.east) -- (dRs.west);
\node[cl] (lDm1) at (200,1550) {Millettieae};
\node[cl] (lDp1) at (309,1567) {Phaseoleae};
\node[cl] (lDes) at (359,1647) {Desmodieae};
\node[cl] (lDp2) at (427,1847) {Phaseoleae};
\node[cl] (lPso) at (349,1993) {Psoraleeae};
\Legend{lD}{14}{1930}{0.89}{5.0}
\Sbar{sD}{172}{226}{1998}{199}{4.5}

% ================= PANEL E =================
\def\tsz{5pt}\def\csz{9.7pt}\def\sqz{4pt}\def\blwz{0.6pt}
\node[pl] (pE) at (9,2055) {E};
\shade[left color=white,right color=cSes] (197,2087) rectangle (244,2108);
\shade[left color=white,right color=cRob] (185,2110) rectangle (244,2131);
\shade[left color=white,right color=cLot] (277,2132) rectangle (307,2153);
\shade[left color=white,right color=cGly] (233,2154) rectangle (287,2198);
\shade[left color=white,right color=cWis] (197,2201) rectangle (244,2260);
\shade[left color=white,right color=cVic] (405,2260) rectangle (473,2379);
\shade[left color=white,right color=cHed] (307,2383) rectangle (381,2457);
\shade[left color=white,right color=cAst] (307,2457) rectangle (381,2508);
\Nd{eR}{5}{2078}
\Tri{eT}{12}{2078}{11}{8.5}
\Nd{eH}{33}{2194}\SqC{eHs}{29}{2194}{black}
\Ndk{eRo}{46}{2113}
\Ndk{eSe}{119}{2095}
\Tip{e1}{146}{2090}{Sesbania drummondii}
\Ndk{eSe2}{146}{2101}
\Tip{e2}{160}{2097}{Sesbania grandiflora}
\Tip{e3}{159}{2105}{Sesbania cannabina}
\Nd{eRL}{49}{2130}\SqD{eRLs}{49}{2130}{cO}{white}
\Ndk{eRb}{101}{2119}
\Tip{e4}{148}{2113}{Gliricidia sepium}
\Ndk{eRb2}{122}{2123}
\Tip{e5}{139}{2120}{Robinia pseudoacacia}
\Tip{e6}{177}{2128}{Coursetia rostrata}
\Ndk{eLo}{193}{2141}
\Tip{e7}{245}{2136}{Securigera varia}
\Ndk{eLo2}{241}{2148}
\Tip{e8}{245}{2145}{Lotus japonicus}
\Tip{e9}{245}{2151}{Lotus corniculatus}
\Ndk{eIR}{87}{2274}
\Nd{eGW}{92}{2188}\SqD{eGWs}{92}{2188}{cO}{white}
\Ndk{eGy}{145}{2165}
\Tip{e10}{193}{2158}{Glycyrrhizopsis flavescens}
\Nd{eGy2}{163}{2180}
\SqC{eGy2a}{163}{2172}{black}
\SqD{eGy2b}{161}{2180}{cB}{black}
\SqC{eGy2c}{161}{2187}{black}
\Tip{e11}{170}{2165}{Glycyrrhiza echinata}
\Tip{e12}{170}{2173}{Glycyrrhiza bucharica}
\Tip{e13}{174}{2181}{Glycyrrhiza triphylla}
\Tip{e14}{172}{2188}{Glycyrrhiza uralensis}
\Tip{e15}{171}{2196}{Glycyrrhiza lepidota}
\Ndk{eWi}{115}{2212}
\Tip{e16}{139}{2204}{Wisteriopsis reticulata}
\Tip{e17}{152}{2211}{Sarcodum scandens}
\Nd{eWi2}{121}{2223}\SqD{eWi2s}{122}{2219}{cG}{cO}
\Tip{e18}{141}{2219}{Callerya nitida}
\Ndk{eWi3}{128}{2233}
\Ndk{ePd}{143}{2230}
\Tip{e19}{154}{2225}{Padbruggea filipes}
\Tip{e20}{146}{2234}{Austrocallerya megasperma}
\Nd{eWs}{157}{2249}\SqC{eWsa}{157}{2246}{black}\SqC{eWsb}{157}{2253}{black}
\SqC{eWi3b}{137}{2238}{black}
\Tip{e21}{160}{2241}{Wisteria sinensis}
\Tip{e22}{160}{2249}{Wisteria floribunda}
\Tip{e23}{160}{2256}{Wisteria brachybotrys}
\Ndk{eI2}{115}{2360}
\Ndk{eVC}{127}{2275}
\Tip{e24}{197}{2264}{Parochetus communis}
\Ndk{eCi}{156}{2285}
\Tip{e25}{287}{2271}{Cicer arietinum}
\Ndk{eGa}{165}{2298}
\Tip{e26}{272}{2279}{Galega officinalis}
\Ndk{eMT}{182}{2317}
\Ndk{eMT2}{206}{2298}
\Ndk{eMe}{238}{2290}
\Tip{e27}{286}{2287}{Medicago truncatula}
\Tip{e28}{253}{2294}{Medicago radiata}
\Ndk{eTg}{233}{2306}
\Tip{e29}{268}{2302}{Trigonella foenum graecum}
\Tip{e30}{252}{2309}{Melilotus albus}
\Nd{eTV}{189}{2336}\SqD{eTVs}{189}{2336}{black}{cB}
\Ndk{eTf}{267}{2321}
\Tip{e31}{303}{2317}{Trifolium repens}
\Tip{e32}{340}{2325}{Trifolium alexandrinum}
\Ndk{eLV}{258}{2353}
\Ndk{eLn}{265}{2338}
\Tip{e33}{363}{2332}{Lens culinaris}
\Ndk{eVi}{290}{2344}
\Tip{e34}{362}{2340}{Vicia sativa}
\Tip{e35}{320}{2348}{Vicia faba}
\Ndk{eLP}{290}{2367}
\Ndk{eLa}{338}{2359}
\Tip{e36}{395}{2355}{Lathyrus sativus}
\Tip{e37}{341}{2363}{Lathyrus odoratus}
\Ndk{eVP}{313}{2374}
\Tip{e38}{390}{2370}{Vavilovia formosa}
\Tip{e39}{368}{2378}{Pisum sativum}
\Ndk{eHA}{125}{2443}
\Ndk{eHd}{132}{2411}
\Ndk{eHdA}{147}{2392}
\Tip{e40}{194}{2385}{Alhagi sparsifolia}
\Ndk{eOn}{193}{2399}
\Tip{e41}{290}{2393}{Onobrychis viciifolia}
\Nd{eHy}{199}{2404}\SqD{eHys}{199}{2404}{cO}{cB}
\Tip{e42}{256}{2401}{Hedysarum semenovii}
\Tip{e43}{246}{2408}{Hedysarum petrovii}
\Nd{eHdB}{136}{2429}\SqC{eHdBs}{136}{2429}{cG}
\Ndk{eTi}{238}{2420}
\Tip{e44}{240}{2415}{Tibetia liangshanensis}
\Tip{e45}{240}{2422}{Tibetia himalaica}
\Ndk{eCa}{164}{2438}
\Tip{e46}{186}{2431}{Halimodendron halodendron}
\Ndk{eCa2}{170}{2444}
\Tip{e47}{172}{2438}{Caragana arborescens}
\Ndk{eCa3}{171}{2450}
\Tip{e48}{173}{2446}{Caragana microphylla}
\Tip{e49}{173}{2453}{Caragana korshinskii}
\Ndk{eAs}{191}{2477}
\Ndk{eAsA}{207}{2465}
\Tip{e50}{217}{2461}{Astragalus mongholicus}
\Tip{e51}{229}{2469}{Astragalus canadensis brevidens}
\Nd{eAs2}{196}{2489}\SqC{eAs2s}{196}{2489}{cB}
\Ndk{eOx}{228}{2479}
\Tip{e52}{233}{2475}{Oxytropis splendens}
\Tip{e53}{233}{2482}{Oxytropis arctobia}
\Ndk{eAs3}{208}{2497}
\Tip{e54}{234}{2492}{Carmichaelia australis}
\Ndk{eSp}{219}{2504}
\Tip{e55}{246}{2499}{Sphaerophysa salsula}
\Tip{e56}{240}{2506}{Lessertia frutescens}
\Br{eR}{eT,eH}
\Br{eH}{eRo,eIR}
\Br{eRo}{eSe,eRL}
\Br{eSe}{e1,eSe2}
\Br{eSe2}{e2,e3}
\Br{eRL}{eRb,eLo}
\Br{eRb}{e4,eRb2}
\Br{eRb2}{e5,e6}
\Br{eLo}{e7,eLo2}
\Br{eLo2}{e8,e9}
\Br{eIR}{eGW,eI2}
\Br{eGW}{eGy,eWi}
\Br{eGy}{e10,eGy2}
\Br{eGy2}{e11,e12,e13,e14,e15}
\Br{eWi}{e16,e17,eWi2}
\Br{eWi2}{e18,eWi3}
\Br{eWi3}{ePd,eWs}
\Br{ePd}{e19,e20}
\Br{eWs}{e21,e22,e23}
\Br{eI2}{eVC,eHA}
\Br{eVC}{e24,eCi}
\Br{eCi}{e25,eGa}
\Br{eGa}{e26,eMT}
\Br{eMT}{eMT2,eTV}
\Br{eMT2}{eMe,eTg}
\Br{eMe}{e27,e28}
\Br{eTg}{e29,e30}
\Br{eTV}{eTf,eLV}
\Br{eTf}{e31,e32}
\Br{eLV}{eLn,eLP}
\Br{eLn}{e33,eVi}
\Br{eVi}{e34,e35}
\Br{eLP}{eLa,eVP}
\Br{eLa}{e36,e37}
\Br{eVP}{e38,e39}
\Br{eHA}{eHd,eAs}
\Br{eHd}{eHdA,eHdB}
\Br{eHdA}{e40,eOn}
\Br{eOn}{e41,eHy}
\Br{eHy}{e42,e43}
\Br{eHdB}{eTi,eCa}
\Br{eTi}{e44,e45}
\Br{eCa}{e46,eCa2}
\Br{eCa2}{e47,eCa3}
\Br{eCa3}{e48,e49}
\Br{eAs}{eAsA,eAs2}
\Br{eAsA}{e50,e51}
\Br{eAs2}{eOx,eAs3}
\Br{eOx}{e52,e53}
\Br{eAs3}{e54,eSp}
\Br{eSp}{e55,e56}
\node[cl,anchor=west] (lEt) at (24,2079) {Indigofereae + Millettioid clade (see Figure 5C-D)};
\node[cl] (lSes) at (220,2097) {Sesbanieae};
\node[cl] (lRob) at (223,2120) {Robinieae};
\node[cl] (lLot) at (293,2142) {Loteae};
\node[cl] (lGly) at (257,2177) {Glycyrrhizeae};
\node[cl] (lWis) at (222,2232) {Wisterieae};
\node[cl] (lVic) at (447,2323) {Vicioid clade};
\node[cl] (lHed) at (348,2418) {Hedysaroid clade};
\node[cl] (lAst) at (348,2483) {Astragalean clade};
\node[cl,font=\cf\bfseries\fontsize{11.4}{11.4}\selectfont] (lIRLC) at (70,2265) {IRLC};
\node[cl,rotate=-90,font=\rf\bfseries\fontsize{11.3}{11.3}\selectfont] (lHolo) at (39,2190) {Hologalegina clade};
\node[cl,rotate=-90,font=\rf\bfseries\fontsize{11}{11}\selectfont] (lRobc) at (320,2120) {Robinioid clade};
\draw[dsh,line width=0.6pt] (244,2087) -- (308,2087);
\draw[line width=0.8pt] (308,2087) -- (312,2087) -- (312,2153) -- (308,2153);
\Legend{lE}{14}{2438}{0.71}{4.1}
\Sbar{sE}{125}{167}{2497}{146}{4}
\end{tikzpicture}
\end{document}
